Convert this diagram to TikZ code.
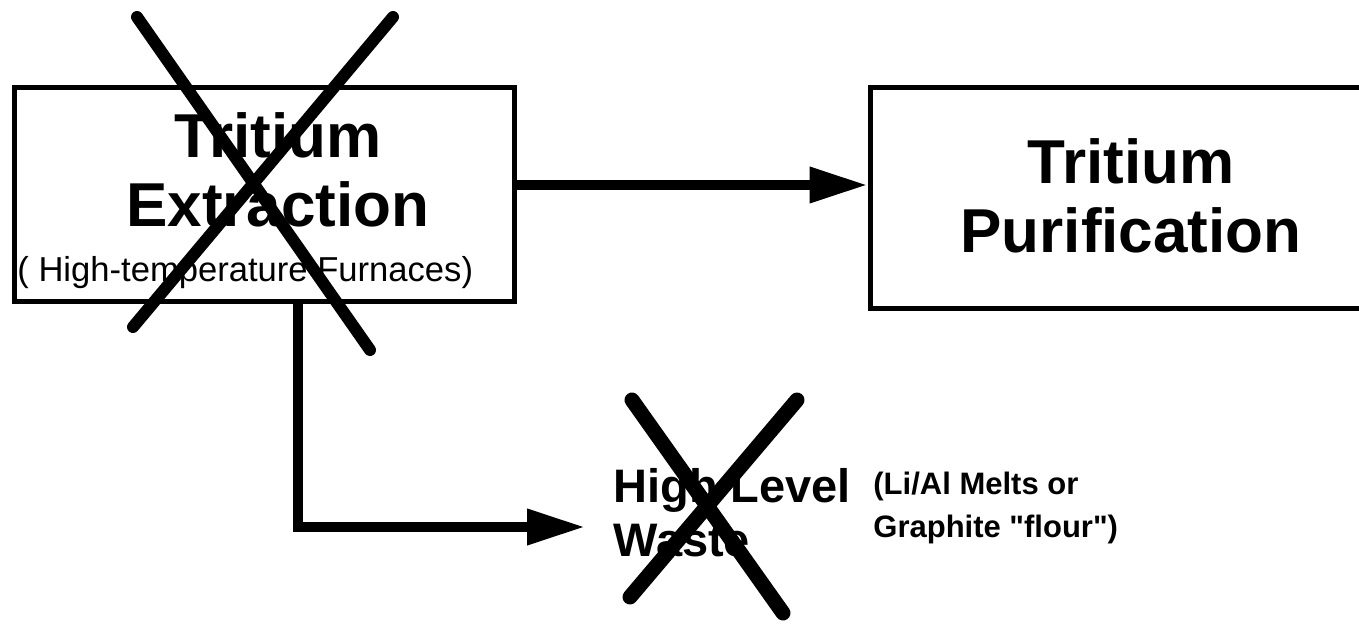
\documentclass[tikz,border=0pt]{standalone}
\usepackage{fontspec}
\setmainfont{Liberation Sans}
\usetikzlibrary{arrows.meta, positioning}

\begin{document}
\begin{tikzpicture}[x=0.5pt, y=-0.5pt,
  box/.style={draw, line width=2.5pt, inner sep=0pt},
  title/.style={inner sep=0pt, align=center, anchor=base, font=\fontsize{31}{34.5}\selectfont\bfseries},
  flow/.style={line width=5pt, -{Triangle[length=29pt, width=17pt]}},
  cross/.style={line width=6pt, line cap=round}]
\clip (0,0) rectangle (1359,625);
% Kaesten
\node[box, minimum width=250pt, minimum height=107pt] (extr) at (264,195) {};
\node[box, minimum width=261pt, minimum height=110.5pt] (purif) at (1131,198) {};
\node[title] (extrtxt) at (278,227) {Tritium\\Extraction};
\node[title] (puriftxt) at (1131,253) {Tritium\\Purification};
\node[inner sep=0pt, anchor=base west, font=\fontsize{17.3}{20}\selectfont] (furn) at (17,282) {( High-temperature Furnaces)};
\node[inner sep=0pt, anchor=base west, align=left, font=\fontsize{23.5}{27}\selectfont\bfseries] (waste) at (613,556) {High Level\\Waste};
\node[inner sep=0pt, anchor=base west, align=left, font=\fontsize{15.5}{21.5}\selectfont\bfseries] (melts) at (873,537) {(Li/Al Melts or\\Graphite \textquotedbl flour\textquotedbl)};
% Pfeile
\coordinate (bend) at (298,527);
\draw[flow] ([yshift=5pt]extr.east) -- ([yshift=5pt]extr.east -| purif.west);
\draw[flow, line join=miter] (bend |- extr.south) -- (bend) -- ([xshift=-14pt]waste.west |- bend);
% Kreuze
\draw[cross] (137,17) -- (370,350) (393,17) -- (133,327);
\draw[cross, line width=7.5pt] (632,400) -- (783,613) (797,400) -- (630,597);
\end{tikzpicture}
\end{document}
